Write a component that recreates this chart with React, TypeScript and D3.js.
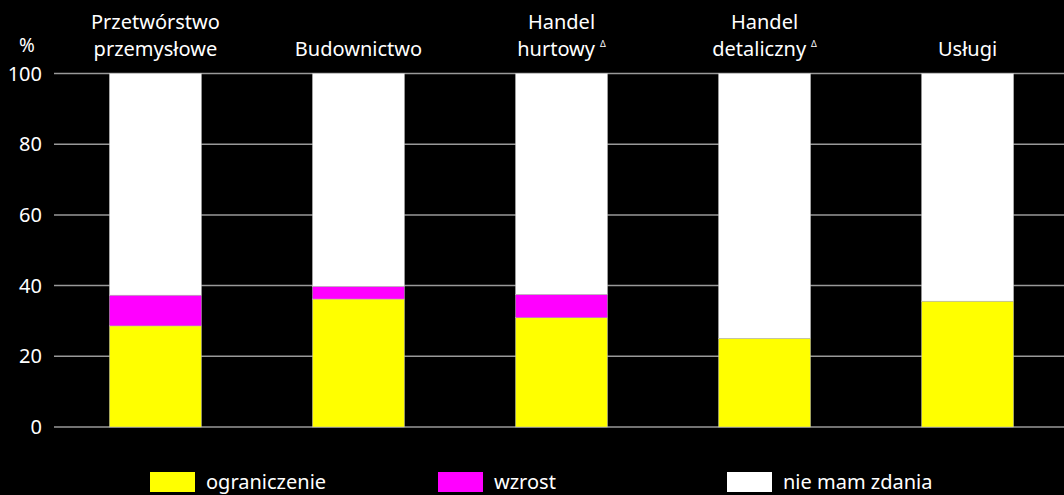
import React from "react";
import * as d3 from "d3";

const categories = [
  ["Przetwórstwo", "przemysłowe"],
  ["Budownictwo"],
  ["Handel", "hurtowy"],
  ["Handel", "detaliczny"],
  ["Usługi"],
];
const triangleMarks = [false, false, true, true, false];
const ograniczenie = [28.6, 36.2, 30.9, 25.1, 35.6];
const wzrost = [8.7, 3.6, 6.6, 0, 0];
const nieMamZdania = [62.7, 60.2, 62.5, 74.9, 64.4];
const yTicks = [0, 20, 40, 60, 80, 100];
const seriesNames = ["ograniczenie", "wzrost", "nie mam zdania"];
const seriesColors = ["#ffff00", "#ff00ff", "#ffffff"];

const W = 1064;
const H = 495;
const FONT = "'Noto Sans', 'DejaVu Sans', sans-serif";

export default function App() {
  const x = d3
    .scaleBand<number>()
    .domain(d3.range(categories.length))
    .range([54, 1069])
    .paddingInner(0.547)
    .paddingOuter(0.273);
  const y = d3.scaleLinear().domain([0, 100]).range([427, 73.5]);

  const rows = categories.map((_, i) => ({
    i,
    ograniczenie: ograniczenie[i],
    wzrost: wzrost[i],
    nie: nieMamZdania[i],
  }));
  const stack = d3.stack<any>().keys(["ograniczenie", "wzrost", "nie"]);
  const layers = stack(rows);

  const legendX = [150, 438, 727];

  return (
    <div style={{ position: "fixed", left: 0, top: 0 }}>
      <svg width={W} height={H} style={{ display: "block", background: "#000" }} fontFamily={FONT} fontWeight={400}>
        <rect x={0} y={0} width={W} height={H} fill="#000" />
        {yTicks.map((t) => (
          <g key={t}>
            <line x1={54} x2={W} y1={y(t)} y2={y(t)} stroke="#999" strokeWidth={1.5} />
            <text x={42} y={y(t)} dy="0.35em" textAnchor="end" fill="#fff" fontSize={20}>
              {t}
            </text>
          </g>
        ))}
        <text x={27} y={45} dy="0.35em" textAnchor="middle" fill="#fff" fontSize={19}>
          %
        </text>
        {layers.map((layer, li) =>
          layer.map((d, i) =>
            d[1] - d[0] > 0 ? (
              <rect
                key={`${li}-${i}`}
                x={x(i)!}
                width={x.bandwidth()}
                y={y(d[1])}
                height={y(d[0]) - y(d[1])}
                fill={seriesColors[li]}
                stroke="#bbb"
                strokeWidth={0.5}
              />
            ) : null
          )
        )}
        {categories.map((lines, i) => {
          const cx = x(i)! + x.bandwidth() / 2;
          const baseY = lines.length === 2 ? 29 : 56;
          return (
            <text key={i} x={cx} textAnchor="middle" fill="#fff" fontSize={20}>
              {lines.map((l, k) => (
                <tspan key={k} x={cx} y={baseY + k * 27}>
                  {l}
                  {triangleMarks[i] && k === lines.length - 1 ? (
                    <tspan fontSize={9} dx={5} dy={-9}>
                      Δ
                    </tspan>
                  ) : null}
                </tspan>
              ))}
            </text>
          );
        })}
        {seriesNames.map((n, i) => (
          <g key={n}>
            <rect x={legendX[i]} y={472} width={45} height={20} fill={seriesColors[i]} />
            <text x={legendX[i] + 56} y={482} dy="0.35em" fill="#fff" fontSize={20}>
              {n}
            </text>
          </g>
        ))}
      </svg>
    </div>
  );
}
